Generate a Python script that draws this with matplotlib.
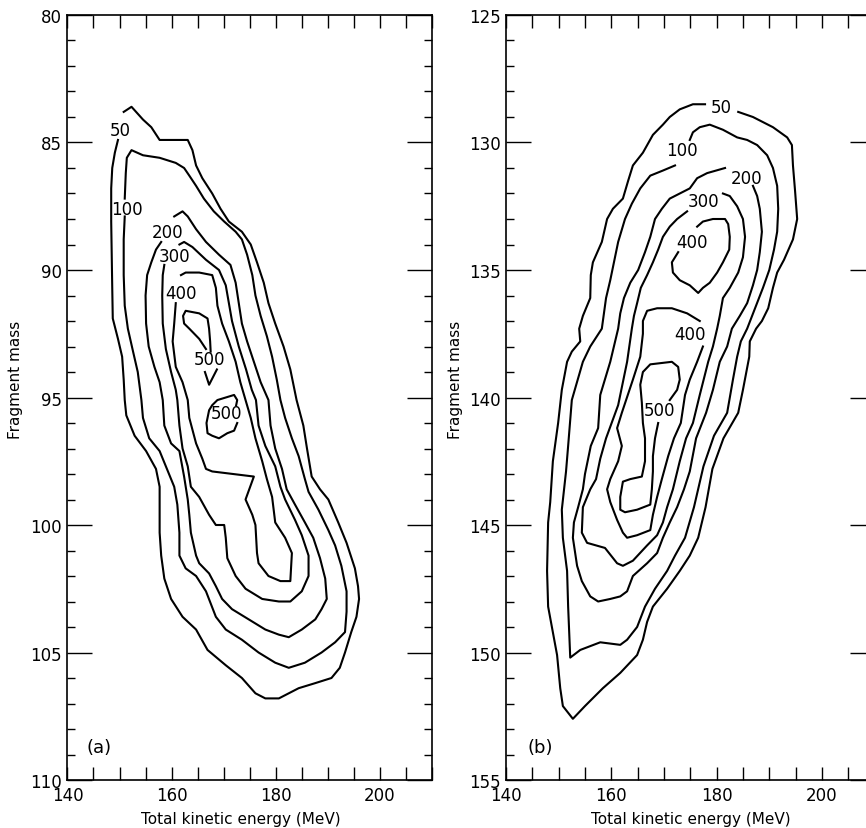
"""Fragment mass vs total kinetic energy contour maps, panels (a) and (b)."""

import matplotlib
matplotlib.use("Agg")
import matplotlib.pyplot as plt
from matplotlib.ticker import MultipleLocator

# ---- panel (a): light fragment group, contour lines as (TKE MeV, mass) ----
A50 = [(149.7, 84.9), (149.1, 85.4), (148.6, 86.0), (148.4, 86.8), (148.4, 88.1), (148.5, 89.4),
       (148.6, 90.7), (148.7, 91.9), (149.7, 92.7), (150.5, 93.4), (150.8, 94.3), (151.0, 95.1),
       (151.3, 95.7), (152.9, 96.5), (155.1, 97.1), (157.0, 97.8), (157.7, 98.5), (157.7, 100.3),
       (158.0, 101.2), (158.6, 102.1), (159.9, 102.9), (162.1, 103.6), (164.7, 104.1), (166.9, 104.9),
       (170.4, 105.5), (173.5, 106.0), (176.1, 106.6), (178.0, 106.8), (180.6, 106.8), (184.4, 106.4),
       (187.6, 106.2), (190.7, 106.0), (192.3, 105.6), (193.3, 105.0), (194.5, 104.2), (195.5, 103.6),
       (196.0, 102.9), (195.8, 102.4), (195.2, 101.7), (193.6, 100.7), (192.0, 99.9), (190.1, 99.0),
       (188.5, 98.6), (186.9, 98.1), (186.0, 97.0), (185.3, 96.1), (184.0, 95.1), (182.8, 93.9),
       (181.5, 93.0), (179.9, 92.1), (178.6, 91.3), (177.7, 90.5), (176.4, 89.7), (175.2, 89.0),
       (173.5, 88.5), (171.0, 88.1), (169.4, 87.6), (167.8, 87.0), (165.9, 86.4), (164.7, 85.9),
       (164.0, 85.3), (163.1, 84.9), (161.5, 84.9), (157.7, 84.9), (156.1, 84.4), (154.5, 84.1),
       (152.3, 83.6), (150.8, 83.8)]
A100 = [(151.0, 87.9), (150.8, 88.8), (150.8, 90.2), (151.0, 91.4), (151.6, 92.3), (152.6, 93.2),
        (153.5, 94.0), (154.2, 95.1), (154.5, 95.8), (155.7, 96.6), (157.7, 97.1), (158.9, 97.7),
        (160.5, 98.5), (161.1, 99.2), (161.5, 100.3), (161.5, 101.2), (162.7, 101.7), (164.7, 102.0),
        (166.6, 102.6), (168.5, 103.6), (170.4, 104.1), (173.5, 104.5), (176.7, 105.0), (179.9, 105.4),
        (182.5, 105.6), (185.6, 105.4), (188.8, 105.0), (191.4, 104.6), (193.3, 104.2), (193.6, 103.4),
        (193.6, 102.6), (192.6, 101.6), (191.4, 100.8), (190.1, 100.2), (188.2, 99.4), (186.3, 98.7),
        (185.6, 98.2), (184.4, 97.3), (183.1, 96.6), (181.8, 95.8), (180.9, 95.1), (180.2, 94.3),
        (179.3, 93.4), (178.3, 92.6), (177.1, 91.8), (176.1, 91.0), (175.5, 90.2), (174.5, 89.4),
        (173.5, 88.8), (172.3, 88.5), (170.1, 88.1), (168.1, 87.7), (166.2, 87.2), (164.7, 86.7),
        (163.4, 86.3), (162.4, 86.0), (160.8, 85.8), (157.7, 85.6), (154.5, 85.5), (152.3, 85.3),
        (151.4, 85.6), (151.2, 86.2), (151.0, 87.2)]
A200 = [(158.0, 88.9), (157.0, 89.2), (156.1, 89.7), (155.3, 90.2), (155.0, 91.0), (155.1, 92.1),
        (155.6, 93.0), (156.7, 93.8), (157.7, 94.4), (158.3, 95.1), (158.6, 96.1), (159.9, 96.8),
        (161.5, 97.1), (162.4, 98.1), (163.1, 99.0), (163.4, 99.6), (163.7, 100.3), (164.7, 101.2),
        (165.3, 101.5), (167.2, 101.9), (168.5, 102.4), (169.7, 102.9), (171.6, 103.3), (174.8, 103.7),
        (178.0, 104.1), (180.6, 104.3), (182.5, 104.4), (185.0, 104.1), (187.6, 103.7), (188.8, 103.3),
        (189.8, 102.9), (189.5, 102.1), (188.5, 101.3), (187.2, 100.5), (185.6, 99.9), (183.7, 99.2),
        (182.1, 98.6), (181.2, 97.8), (179.9, 97.0), (179.0, 96.1), (178.6, 95.1), (177.1, 94.4),
        (175.8, 93.6), (174.5, 92.8), (173.5, 92.1), (172.9, 91.3), (172.3, 90.5), (171.3, 89.8),
        (169.1, 89.4), (166.6, 88.9), (164.7, 88.4), (163.1, 87.9), (162.1, 87.7), (160.5, 87.9)]
A300 = [(158.6, 89.8), (158.3, 90.2), (158.2, 91.0), (158.3, 92.1), (158.9, 93.1), (159.9, 94.0),
        (160.8, 94.7), (161.1, 95.1), (161.5, 96.1), (162.1, 97.0), (163.1, 97.7), (163.7, 98.5),
        (165.3, 98.9), (167.2, 99.6), (168.5, 100.0), (170.1, 100.0), (170.4, 100.5), (170.7, 101.3),
        (172.3, 102.0), (174.2, 102.5), (177.4, 102.9), (180.6, 103.0), (182.8, 103.0), (185.0, 102.6),
        (186.3, 102.0), (186.3, 101.2), (185.0, 100.4), (183.7, 99.8), (181.8, 99.0), (180.9, 98.5),
        (179.9, 97.7), (178.0, 96.9), (176.7, 96.1), (176.2, 95.1), (175.4, 94.7), (174.3, 93.9),
        (172.9, 93.0), (171.6, 92.0), (171.0, 91.3), (170.4, 90.6), (169.1, 90.0), (166.6, 89.6),
        (164.0, 89.1), (162.4, 88.9), (161.5, 89.0)]
A400 = [(161.8, 90.2), (162.7, 90.1), (165.3, 90.1), (167.8, 90.2), (168.5, 90.7), (168.8, 91.4),
        (169.7, 92.1), (171.0, 92.8), (172.3, 93.6), (173.2, 94.4), (174.2, 95.1), (175.2, 95.8),
        (176.1, 96.6), (177.4, 97.5), (178.3, 98.2), (179.3, 98.9), (179.9, 99.9), (181.8, 100.5),
        (183.1, 101.1), (182.8, 102.2), (180.9, 102.2), (178.6, 102.0), (176.7, 101.5), (176.4, 101.1),
        (176.1, 100.0), (175.5, 99.6), (174.2, 99.0), (175.8, 98.1), (167.8, 97.9), (166.6, 97.8),
        (165.9, 97.4), (164.7, 96.8), (163.4, 95.8), (163.1, 95.1), (162.1, 94.4), (160.8, 93.8),
        (160.2, 92.8), (160.5, 92.1), (160.8, 91.3)]
A500_UPPER = [(166.6, 93.1), (165.3, 92.7), (163.4, 92.3), (162.4, 92.1), (162.2, 91.8), (162.7, 91.6),
              (165.3, 91.7), (166.9, 91.9), (167.2, 92.3), (167.4, 92.8), (167.5, 93.2)]
A500_TIP = [(166.4, 94.0), (167.2, 94.5), (168.7, 93.9)]
A500_LOWER = [(172.4, 95.3), (172.6, 95.1), (172.0, 94.9), (170.4, 95.0), (168.8, 95.1), (167.8, 95.3),
              (167.2, 95.5), (166.7, 96.0), (166.9, 96.4), (167.8, 96.5), (169.1, 96.6), (170.7, 96.4),
              (172.0, 96.3), (172.6, 96.0)]
A_LINES = [A50, A100, A200, A300, A400, A500_UPPER, A500_TIP, A500_LOWER]
A_LABELS = [("50", 150.2, 84.5), ("100", 151.5, 87.6), ("200", 159.2, 88.5), ("300", 160.5, 89.45),
            ("400", 161.9, 90.9), ("500", 167.2, 93.5), ("500", 170.5, 95.6)]

# ---- panel (b): heavy fragment group ----
B50 = [(184.1, 128.8), (186.9, 129.0), (190.7, 129.4), (193.4, 129.8), (194.3, 130.1), (194.5, 130.9),
       (194.9, 131.9), (195.3, 133.0), (194.5, 133.8), (192.8, 134.6), (191.5, 135.1), (190.7, 135.7),
       (189.8, 136.5), (188.6, 137.0), (187.5, 137.3), (186.3, 137.8), (186.2, 138.4), (185.0, 139.7),
       (184.1, 140.6), (181.3, 141.6), (179.2, 142.8), (177.9, 144.3), (176.5, 145.5), (174.9, 146.2),
       (173.0, 146.8), (170.6, 147.5), (167.9, 148.2), (166.8, 148.8), (166.0, 149.5), (164.9, 150.1),
       (161.7, 150.8), (158.4, 151.4), (155.0, 152.1), (152.7, 152.6), (150.8, 152.1), (150.3, 151.4),
       (149.7, 150.1), (148.0, 148.2), (147.8, 146.8), (148.0, 144.9), (148.4, 144.1), (148.9, 142.5),
       (149.9, 141.0), (150.6, 139.7), (151.6, 138.6), (152.5, 138.2), (154.1, 137.8), (153.9, 137.3),
       (154.6, 136.8), (156.0, 136.1), (156.1, 135.2), (156.5, 134.7), (158.2, 133.9), (159.2, 133.0),
       (160.3, 132.6), (162.2, 132.2), (163.2, 131.5), (164.1, 130.9), (166.0, 130.4), (167.9, 129.7),
       (169.8, 129.3), (171.1, 129.0), (173.0, 128.7), (175.5, 128.5), (177.8, 128.5)]
B100 = [(174.9, 129.9), (175.5, 129.6), (176.8, 129.4), (178.7, 129.3), (181.2, 129.5), (183.9, 129.8),
        (185.8, 129.9), (187.7, 130.1), (189.6, 130.5), (190.7, 131.0), (191.5, 131.7), (191.7, 132.6),
        (191.5, 133.5), (190.9, 134.2), (190.0, 135.0), (188.8, 135.7), (187.3, 136.5), (185.8, 137.3),
        (184.6, 137.8), (183.9, 138.4), (183.1, 139.3), (182.0, 140.6), (179.5, 141.5), (177.5, 142.7),
        (175.7, 144.3), (174.0, 145.5), (172.1, 146.2), (170.6, 146.8), (168.3, 147.5), (166.4, 148.2),
        (164.9, 149.0), (163.0, 149.5), (161.7, 149.7), (157.9, 149.6), (154.1, 149.9), (152.2, 150.2),
        (151.8, 148.2), (151.6, 146.8), (150.8, 145.5), (150.6, 144.4), (151.4, 142.9), (151.8, 141.9),
        (152.5, 140.1), (154.6, 138.6), (156.0, 138.0), (158.2, 137.3), (159.0, 136.1), (159.8, 135.4),
        (161.3, 133.9), (162.6, 133.0), (163.9, 132.4), (165.5, 131.8), (167.4, 131.3), (169.8, 131.1),
        (172.1, 130.9)]
B200 = [(181.6, 131.0), (178.2, 131.2), (176.3, 131.4), (174.9, 131.8), (173.0, 132.0), (171.1, 132.2),
        (169.6, 132.6), (168.3, 133.0), (167.4, 133.7), (166.4, 134.3), (165.1, 135.0), (163.6, 135.5),
        (162.4, 136.1), (161.7, 136.7), (161.3, 137.3), (159.8, 138.6), (157.9, 139.9), (157.5, 141.2),
        (156.1, 141.9), (155.0, 143.0), (154.6, 143.6), (153.7, 144.3), (152.9, 144.9), (152.7, 145.5),
        (153.5, 146.6), (154.4, 147.2), (156.0, 147.8), (157.5, 148.0), (159.8, 147.9), (161.7, 147.8),
        (163.0, 147.6), (164.1, 147.0), (166.8, 146.5), (168.7, 146.1), (169.8, 145.5), (171.1, 144.9),
        (172.5, 144.3), (173.8, 143.6), (174.9, 142.9), (176.1, 141.6), (178.0, 140.6), (179.3, 139.7),
        (180.6, 138.6), (182.0, 138.0), (182.9, 137.3), (184.4, 136.8), (185.8, 136.3), (186.9, 135.6),
        (187.7, 135.0), (188.2, 134.3), (188.6, 133.5), (188.2, 132.6), (187.7, 132.1), (186.9, 131.7)]
B300 = [(174.4, 132.7), (172.5, 133.0), (171.1, 133.3), (169.8, 133.7), (168.9, 134.2), (167.9, 134.7),
        (166.8, 135.2), (165.6, 135.7), (164.9, 136.3), (164.3, 136.8), (163.9, 137.3), (163.0, 138.6),
        (161.3, 140.3), (159.0, 141.6), (157.9, 142.4), (157.1, 143.2), (156.0, 143.6), (154.6, 144.3),
        (154.4, 145.3), (155.4, 145.7), (158.8, 145.9), (161.1, 146.5), (162.2, 146.6), (164.1, 146.4),
        (166.8, 145.8), (168.7, 145.4), (169.8, 144.9), (170.6, 144.3), (171.7, 143.6), (173.0, 142.5),
        (174.2, 141.6), (175.5, 141.0), (176.8, 139.9), (178.4, 138.6), (179.3, 138.0), (180.1, 137.3),
        (180.6, 136.8), (181.2, 136.1), (182.5, 135.7), (184.1, 135.1), (185.0, 134.5), (185.4, 133.7),
        (185.0, 133.0), (183.9, 132.5), (182.5, 132.1), (181.2, 132.0)]
B400_ISLAND = [(172.7, 134.3), (172.1, 134.5), (171.5, 134.7), (171.7, 135.1), (173.0, 135.4),
               (174.9, 135.6), (176.5, 135.9), (177.4, 135.7), (178.7, 135.5), (180.1, 135.1),
               (181.2, 134.7), (182.4, 134.2), (182.5, 133.7), (182.2, 133.2), (181.6, 133.0),
               (179.3, 133.0), (177.4, 133.1), (176.3, 133.3)]
B400_LOWER = [(176.8, 137.0), (174.4, 136.7), (171.5, 136.5), (168.7, 136.5), (166.8, 136.6),
              (166.0, 137.0), (166.0, 137.5), (165.5, 138.4), (164.1, 139.3), (162.0, 140.6),
              (161.1, 141.2), (162.0, 141.9), (161.3, 142.5), (159.8, 143.2), (159.2, 143.6),
              (159.8, 144.1), (161.1, 144.8), (162.2, 145.3), (163.0, 145.5), (164.9, 145.4),
              (167.4, 145.2), (167.9, 144.6), (168.7, 143.9), (169.6, 143.2), (170.8, 142.3),
              (171.9, 141.6), (173.2, 141.0), (174.0, 139.9), (174.9, 139.3), (176.3, 138.6),
              (177.4, 138.0)]
B500 = [(168.9, 141.0), (168.3, 141.6), (167.9, 142.3), (167.9, 142.9), (167.7, 143.6), (167.4, 144.2),
        (164.9, 144.4), (162.6, 144.5), (161.7, 144.4), (161.7, 143.9), (162.2, 143.3), (163.6, 143.2),
        (165.8, 143.1), (166.4, 142.5), (166.4, 141.6), (166.0, 141.0), (165.8, 140.2), (165.5, 139.5),
        (166.0, 139.0), (167.4, 138.7), (171.5, 138.6), (172.7, 138.8), (173.0, 139.3), (172.5, 139.7),
        (171.1, 140.1)]
B_LINES = [B50, B100, B200, B300, B400_ISLAND, B400_LOWER, B500]
B_LABELS = [("50", 180.8, 128.6), ("100", 173.4, 130.3), ("200", 185.6, 131.4), ("300", 177.6, 132.3),
            ("400", 175.3, 133.9), ("400", 174.9, 137.5), ("500", 169.2, 140.5)]

TKE_RANGE = (140, 210)
A_MASS_RANGE = (80, 110)
B_MASS_RANGE = (125, 155)

FONT = 12


def _style(ax, mass_range, xlabel_x, ylabel_x):
    ax.set_xlim(*TKE_RANGE)
    ax.set_ylim(mass_range[1], mass_range[0])
    ax.xaxis.set_major_locator(MultipleLocator(20))
    ax.xaxis.set_minor_locator(MultipleLocator(5))
    ax.yaxis.set_major_locator(MultipleLocator(5))
    ax.yaxis.set_minor_locator(MultipleLocator(1))
    ax.tick_params(axis="x", which="both", direction="in", top=True, bottom=True,
                   length=9.5, width=1.0, labelsize=FONT, pad=4)
    ax.tick_params(axis="y", which="major", direction="in", left=True, right=True,
                   length=18, width=1.0, labelsize=FONT, pad=4)
    ax.tick_params(axis="y", which="minor", direction="in", left=True, right=True,
                   length=6, width=1.0)
    for sp in ax.spines.values():
        sp.set_linewidth(1.2)
    ax.set_xlabel("Total kinetic energy (MeV)", fontsize=11)
    ax.set_ylabel("Fragment mass", fontsize=11)
    ax.xaxis.set_label_coords(xlabel_x, -0.040)
    ax.yaxis.set_label_coords(ylabel_x, 0.525)


def _draw(ax, lines, labels):
    for line in lines:
        xs = [p[0] for p in line]
        ys = [p[1] for p in line]
        ax.plot(xs, ys, color="black", lw=1.5, solid_joinstyle="round")
    for txt, x, y in labels:
        ax.text(x, y, txt, ha="center", va="center", fontsize=FONT)


fig = plt.figure(figsize=(8.66, 8.29), dpi=100)
ax_a = fig.add_axes([0.0779, 0.0579, 0.4209, 0.9228])
ax_b = fig.add_axes([0.5843, 0.0579, 0.4256, 0.9228])

_style(ax_a, A_MASS_RANGE, 0.475, -0.122)
_draw(ax_a, A_LINES, A_LABELS)
ax_a.text(146.0, 108.7, "(a)", ha="center", va="center", fontsize=13)

_style(ax_b, B_MASS_RANGE, 0.502, -0.117)
_draw(ax_b, B_LINES, B_LABELS)
ax_b.text(146.5, 153.7, "(b)", ha="center", va="center", fontsize=13)

fig.savefig("out.png", dpi=100)
